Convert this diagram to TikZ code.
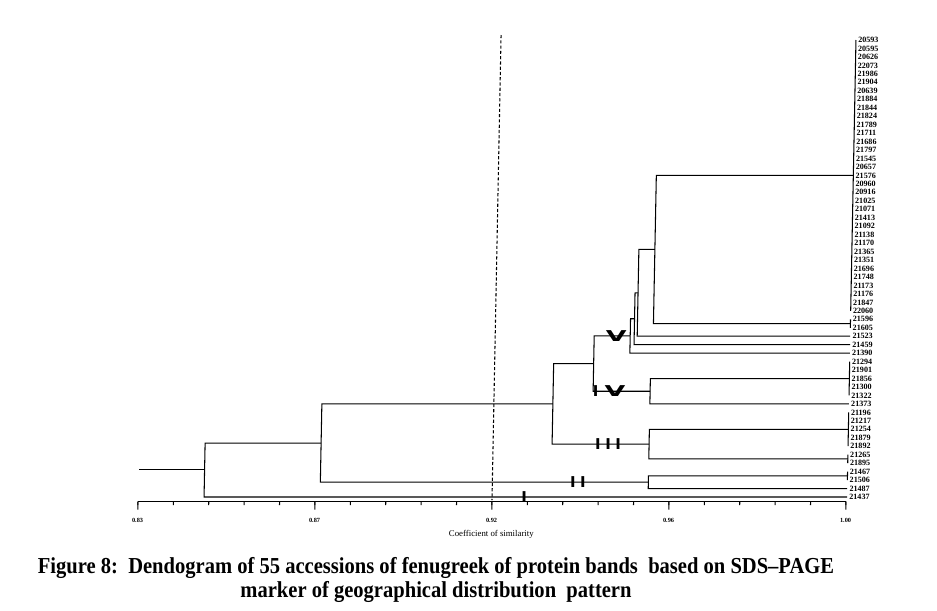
\documentclass[tikz,border=0pt]{standalone}
\usepackage{graphicx}
\usepackage{fontspec}
\setmainfont{Liberation Serif}
\newfontfamily\markfont{DejaVu Sans}
\newcommand{\narrowtext}[1]{\scalebox{0.9}[1]{#1}}
\newcommand{\wideV}{\scalebox{1.8}[1]{V}}

\begin{document}
\begin{tikzpicture}[
  x=0.02cm,
  y=-0.02cm,
  every node/.style={inner sep=0pt, black},
  tree/.style={black, line width=0.6pt},
  axisline/.style={black, line width=0.6pt},
  tick/.style={black, line width=0.6pt},
  cutoff/.style={black, line width=0.6pt, dash pattern=on 1.8pt off 1.2pt},
  leaflab/.style={anchor=west, font=\bfseries\fontsize{4.6}{5}\selectfont},
  ticklab/.style={font=\bfseries\fontsize{3.6}{4}\selectfont},
  clusterlab/.style={font=\markfont\bfseries\fontsize{8.5}{9}\selectfont},
  caption/.style={align=center, font=\bfseries\fontsize{13}{13.7}\selectfont}
]
  % ---- page frame, 937 x 610 -------------------------------------------
  \useasboundingbox (0,0) rectangle (937,610);

  % the scanned figure leans a little to the right at the top
  \begin{scope}[xshift=0.195cm, xslant=0.0195]

  % ---- cut-off line at 0.92 --------------------------------------------
  \draw[cutoff] (492,35) -- (492,500);

  % ---- accessions, top to bottom ---------------------------------------
  \foreach \acc [count=\i] in {20593,20595,20626,22073,21986,21904,20639,
      21884,21844,21824,21789,21711,21686,21797,21545,20657,21576,20960,
      20916,21025,21071,21413,21092,21138,21170,21365,21351,21696,21748,
      21173,21176,21847,22060,21596,21605,21523,21459,21390,21294,21901,
      21856,21300,21322,21373,21196,21217,21254,21879,21892,21265,21895,
      21467,21506,21487,21437}
    \node[leaflab] (leaf\i) at (849,{40+(\i-1)*8.463}) {\acc};

  % ---- cluster V -------------------------------------------------------
  \draw[tree] (847,40) -- (847,310.82);
  \draw[tree] (847,319.28) -- (847,327.75);
  \draw[tree] (847,175.41) -| (650,249.46) |- (847,323.52);
  \draw[tree] (650,249.46) -| (634,292.84) |- (847,336.21);
  \draw[tree] (634,292.84) -| (631,318.75) |- (847,344.67);
  \draw[tree] (631,318.75) -| (627,335.94) |- (847,353.13);

  % ---- cluster IV ------------------------------------------------------
  \draw[tree] (847,361.60) -- (847,395.45);
  \draw[tree] (847,378.52) -| (648,391.22) |- (847,403.91);
  \draw[tree] (627,335.94) -| (591,363.58) |- (648,391.22);

  % ---- cluster III -----------------------------------------------------
  \draw[tree] (847,412.37) -- (847,446.22);
  \draw[tree] (847,454.68) -- (847,463.15);
  \draw[tree] (847,429.29) -| (648,444.10) |- (847,458.92);
  \draw[tree] (591,363.58) -| (551,403.84) |- (648,444.10);

  % ---- cluster II ------------------------------------------------------
  \draw[tree] (847,471.61) -- (847,480.07);
  \draw[tree] (847,475.84) -| (648,482.19) |- (847,488.54);
  \draw[tree] (551,403.84) -| (320,443.02) |- (648,482.19);

  % ---- cluster I and root ----------------------------------------------
  \draw[tree] (320,443.02) -| (204,469.5) |- (847,497);
  \draw[tree] (204,469.5) -- (138,469.5);

  % ---- cluster marks on the branches -----------------------------------
  \node[clusterlab] (markV)   at (613,336)   {\wideV};
  \node[clusterlab] (markIV)  at (607,391)   {I\kern3.5pt\wideV};
  \node[clusterlab] (markIII) at (607,444)   {I\kern2.6pt I\kern2.6pt I};
  \node[clusterlab] (markII)  at (577.5,482) {I\kern2.6pt I};
  \node[clusterlab] (markI)   at (524,497)   {I};

  % ---- similarity axis -------------------------------------------------
  \draw[axisline] (138,501.5) -- (846,501.5);
  \foreach \k in {0,...,20}
    \draw[tick] (138+\k*35.4,501.5) -- (138+\k*35.4,505);
  \foreach \k in {0,5,...,20}
    \draw[tick] (138+\k*35.4,501.5) -- (138+\k*35.4,509.5);
  \foreach \v [count=\k from 0] in {0.83,0.87,0.92,0.96,1.00}
    \node[ticklab] (tl\k) at (138+\k*177,520) {\v};
  \node[font=\fontsize{5}{6}\selectfont] (axtitle) at (492,534)
    {Coefficient of similarity};
  \end{scope}

  % ---- caption ---------------------------------------------------------
  \node[caption] (figcap) at (436,580)
    {\narrowtext{Figure 8:\ \ Dendogram of 55 accessions of fenugreek of protein bands\ \ based on SDS--PAGE}\\
     \narrowtext{marker of geographical distribution\ \ pattern}};
\end{tikzpicture}
\end{document}
